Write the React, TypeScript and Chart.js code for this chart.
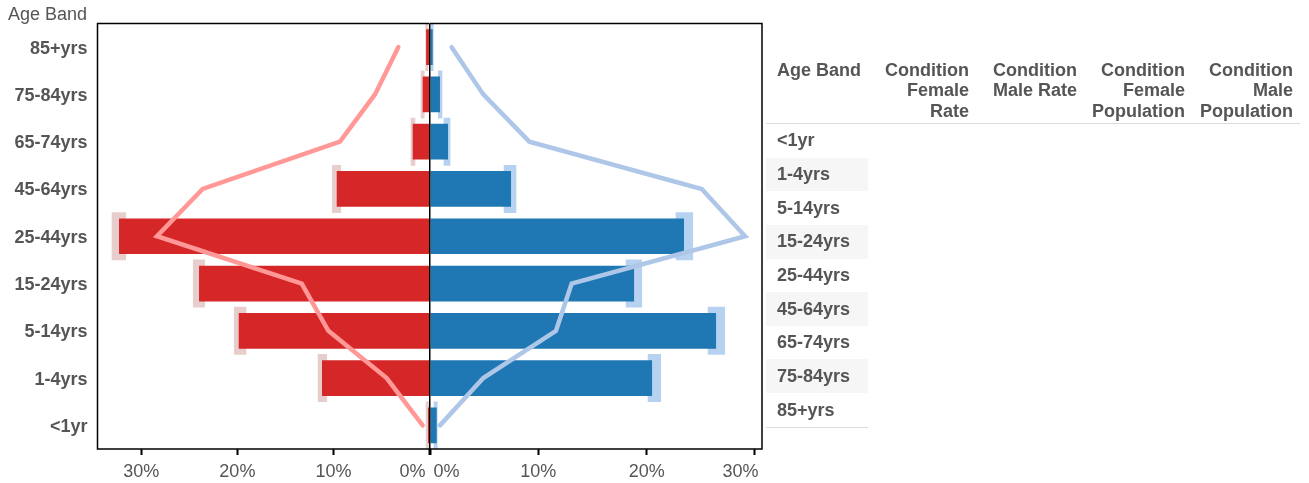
import React, { useEffect, useRef } from 'react';
import { Chart, registerables } from 'chart.js';

Chart.register(...registerables);

const FONT = '"Liberation Sans", Arial, Helvetica, sans-serif';

// Categories (bottom to top on the chart, top to bottom in the table)
const ageBands = ['<1yr', '1-4yrs', '5-14yrs', '15-24yrs', '25-44yrs', '45-64yrs', '65-74yrs', '75-84yrs', '85+yrs'];

// Condition rate (%), with confidence interval bounds
const femaleRate = [0.16, 11.19, 19.86, 23.99, 32.32, 9.66, 1.75, 0.71, 0.35];
const femaleRateLow = [0.1, 10.7, 19.1, 23.4, 31.62, 9.24, 1.51, 0.55, 0.15];
const femaleRateHigh = [0.36, 11.6, 20.32, 24.59, 33.05, 10.12, 1.93, 0.88, 0.4];

const maleRate = [0.62, 20.5, 26.41, 18.84, 23.45, 7.48, 1.66, 0.92, 0.25];
const maleRateLow = [0.37, 20.13, 25.67, 18.1, 22.71, 6.83, 1.29, 0.77, 0.1];
const maleRateHigh = [0.67, 21.3, 27.21, 19.55, 24.26, 7.94, 1.85, 1.11, 0.3];

// Population share (%)
const femalePopulation = [0.71, 4.46, 10.53, 13.3, 28.37, 23.61, 9.32, 5.67, 3.25];
const malePopulation = [0.92, 4.92, 11.63, 13.08, 29.09, 25.09, 9.17, 4.92, 2.0];

// Axis ticks and ranges
const xTickValues = [0, 10, 20, 30];
const leftMax = 34.56;
const rightMax = 30.65;

// Table header
const tableHeaders = [
  ['Age Band'],
  ['Condition', 'Female', 'Rate'],
  ['Condition', 'Male Rate'],
  ['Condition', 'Female', 'Population'],
  ['Condition', 'Male', 'Population'],
];
const yAxisTitle = 'Age Band';

const W = 1309;
const H = 483;

function makePlugin(side: 'left' | 'right') {
  return {
    id: 'frame_' + side,
    afterDraw(chart: any) {
      const { ctx, chartArea } = chart;
      const { left, right, top, bottom } = chartArea;
      ctx.save();
      ctx.strokeStyle = '#000';
      ctx.lineWidth = 1.5;
      ctx.beginPath();
      if (side === 'left') {
        ctx.moveTo(right, top);
        ctx.lineTo(left, top);
        ctx.lineTo(left, bottom);
        ctx.lineTo(right, bottom);
      } else {
        ctx.moveTo(left, top);
        ctx.lineTo(right, top);
        ctx.lineTo(right, bottom);
        ctx.lineTo(left, bottom);
      }
      ctx.stroke();
      if (side === 'right') {
        ctx.beginPath();
        ctx.moveTo(left - 0.25, top);
        ctx.lineTo(left - 0.25, bottom);
        ctx.stroke();
      }
      // x tick labels
      const scale = chart.scales.x;
      ctx.font = '18px ' + FONT;
      ctx.fillStyle = '#555';
      ctx.textBaseline = 'alphabetic';
      const ticks = scale.ticks.map((t: any) => t.value);
      const lastVal = Math.max(...ticks);
      ticks.forEach((v: number) => {
        const px = scale.getPixelForValue(v);
        let align: CanvasTextAlign = 'center';
        let x = px;
        if (side === 'left' && v === 0) {
          align = 'right';
          x = px - 4;
        } else if (side === 'right' && v === 0) {
          align = 'left';
          x = px + 3.5;
        } else if (side === 'right' && v === lastVal) {
          align = 'right';
          x = px + 3.5;
        }
        ctx.textAlign = align;
        ctx.fillText(v + '%', x, bottom + 28);
      });
      ctx.restore();
    },
  };
}

function makeConfig(side: 'left' | 'right'): any {
  const isLeft = side === 'left';
  const rate = isLeft ? femaleRate : maleRate;
  const low = isLeft ? femaleRateLow : maleRateLow;
  const high = isLeft ? femaleRateHigh : maleRateHigh;
  const pop = isLeft ? femalePopulation : malePopulation;
  return {
    type: 'bar',
    data: {
      labels: ageBands,
      datasets: [
        {
          type: 'line',
          indexAxis: 'y',
          data: pop,
          borderColor: isLeft ? '#ff9896' : '#aec7e8',
          borderWidth: 4.5,
          pointRadius: 0,
          pointHoverRadius: 0,
          borderCapStyle: 'round',
          borderJoinStyle: 'miter',
          tension: 0,
          fill: false,
          order: 0,
        },
        {
          type: 'bar',
          data: rate,
          backgroundColor: isLeft ? '#d62728' : '#1f77b4',
          borderWidth: 0,
          barPercentage: 0.755,
          categoryPercentage: 1,
          grouped: false,
          order: 1,
        },
        {
          type: 'bar',
          data: low.map((l, i) => [l, high[i]]),
          backgroundColor: isLeft ? '#e8cdcd' : '#b7d2f1',
          borderWidth: 0,
          barPercentage: 1,
          categoryPercentage: 1,
          grouped: false,
          order: 2,
        },
      ],
    },
    options: {
      indexAxis: 'y',
      responsive: false,
      animation: false,
      events: [],
      layout: {
        padding: isLeft
          ? { left: 0, right: W - 429.5, top: 23.5, bottom: 0 }
          : { left: 430, right: W - 762, top: 23.5, bottom: 0 },
      },
      plugins: {
        legend: { display: false },
        tooltip: { enabled: false },
      },
      scales: {
        x: {
          type: 'linear',
          min: 0,
          max: isLeft ? leftMax : rightMax,
          reverse: isLeft,
          afterBuildTicks: (scale: any) => {
            scale.ticks = xTickValues.map((v) => ({ value: v }));
          },
          ticks: {
            color: 'rgba(0,0,0,0)',
            maxRotation: 0,
            autoSkip: false,
            font: { size: 18, family: FONT },
          },
          grid: {
            display: true,
            drawOnChartArea: false,
            drawTicks: true,
            tickLength: 6,
            tickWidth: 2,
            tickColor: '#000',
            color: '#000',
          },
          border: { display: false },
          afterFit: (scale: any) => {
            scale.height = 34;
          },
        },
        y: {
          type: 'category',
          reverse: true,
          display: isLeft,
          grid: { display: false, drawTicks: false },
          border: { display: false },
          ticks: {
            color: '#555',
            padding: 10,
            labelOffset: 1.5,
            font: { size: 18, weight: 'bold', family: FONT },
          },
          afterFit: (scale: any) => {
            scale.width = isLeft ? 97.5 : 0;
          },
        },
      },
    },
    plugins: [makePlugin(side)],
  };
}

export default function App() {
  const leftRef = useRef<HTMLCanvasElement | null>(null);
  const rightRef = useRef<HTMLCanvasElement | null>(null);

  useEffect(() => {
    Chart.defaults.font.family = FONT;
    Chart.defaults.color = '#555';
    const c1 = new Chart(leftRef.current as HTMLCanvasElement, makeConfig('left'));
    const c2 = new Chart(rightRef.current as HTMLCanvasElement, makeConfig('right'));
    return () => {
      c1.destroy();
      c2.destroy();
    };
  }, []);

  const canvasStyle: React.CSSProperties = {
    position: 'absolute',
    left: 0,
    top: 0,
    width: W,
    height: H,
    display: 'block',
  };

  return (
    <div style={{ position: 'absolute', left: 0, top: 0, width: W, height: H, overflow: 'hidden', background: '#fff' }}>
      <canvas ref={leftRef} width={W} height={H} style={canvasStyle} />
      <canvas ref={rightRef} width={W} height={H} style={canvasStyle} />
      <div
        style={{
          position: 'absolute',
          left: 8,
          top: 4,
          fontFamily: FONT,
          fontSize: 18,
          color: '#555',
          whiteSpace: 'nowrap',
        }}
      >
        {yAxisTitle}
      </div>
      <table
        style={{
          position: 'absolute',
          left: 766,
          top: 59.5,
          borderCollapse: 'collapse',
          tableLayout: 'fixed',
          width: 534,
          fontFamily: FONT,
          fontSize: 18,
          fontWeight: 'bold',
          color: '#555',
          lineHeight: '20.8px',
        }}
      >
        <colgroup>
          <col style={{ width: 102 }} />
          <col style={{ width: 108 }} />
          <col style={{ width: 108 }} />
          <col style={{ width: 108 }} />
          <col style={{ width: 108 }} />
        </colgroup>
        <thead>
          <tr>
            {tableHeaders.map((h, i) => (
              <th
                key={i}
                style={{
                  textAlign: i === 0 ? 'left' : 'right',
                  verticalAlign: 'top',
                  padding: i === 0 ? '0 7px 1px 11px' : '0 7px 1px 0',
                  borderBottom: '1px solid #ddd',
                  whiteSpace: 'nowrap',
                  fontWeight: 'bold',
                }}
              >
                {h.map((line, j) => (
                  <div key={j}>{line}</div>
                ))}
              </th>
            ))}
          </tr>
        </thead>
        <tbody>
          {ageBands.map((b, i) => (
            <tr key={b}>
              <td
                style={{
                  height: 33.67,
                  padding: '0 0 0 11px',
                  background: i % 2 === 1 ? '#f6f6f6' : 'transparent',
                  borderBottom: i === ageBands.length - 1 ? '1px solid #ddd' : 'none',
                  verticalAlign: 'middle',
                  whiteSpace: 'nowrap',
                }}
              >
                {b}
              </td>
            </tr>
          ))}
        </tbody>
      </table>
    </div>
  );
}
